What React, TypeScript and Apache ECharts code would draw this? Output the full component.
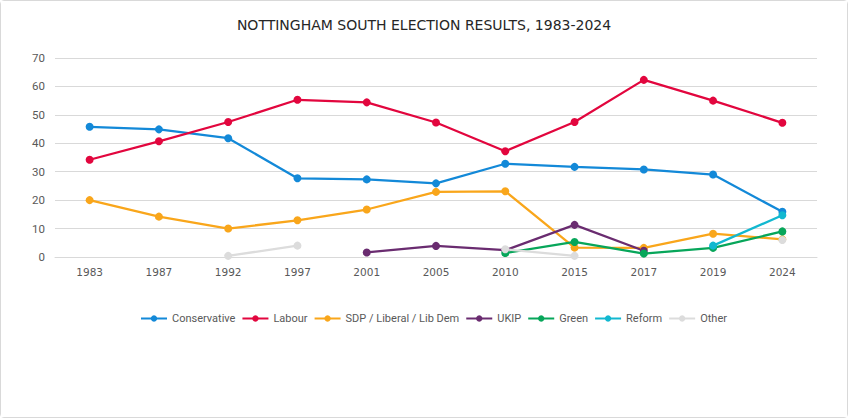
import React, { useEffect, useRef } from "react";
import * as echarts from "echarts";

const years = ["1983", "1987", "1992", "1997", "2001", "2005", "2010", "2015", "2017", "2019", "2024"];
const conservative = [45.8, 44.9, 41.8, 27.7, 27.3, 25.9, 32.8, 31.7, 30.8, 29.0, 15.9];
const labour = [34.2, 40.7, 47.5, 55.3, 54.4, 47.3, 37.2, 47.5, 62.3, 55.0, 47.2];
const libDem = [20.0, 14.2, 10.0, 12.9, 16.7, 22.9, 23.1, 3.3, 3.2, 8.2, 6.2];
const ukip = [null, null, null, null, 1.6, 3.9, 2.4, 11.3, 2.2, null, null];
const green = [null, null, null, null, null, null, 1.4, 5.3, 1.2, 3.2, 9.0];
const reform = [null, null, null, null, null, null, null, null, null, 4.0, 14.7];
const other = [null, null, 0.4, 4.0, null, null, 2.7, 0.4, null, null, 6.0];

const seriesDefs = [
  { name: "Conservative", data: conservative, color: "#1389D8" },
  { name: "Labour", data: labour, color: "#E2063E" },
  { name: "SDP / Liberal / Lib Dem", data: libDem, color: "#F9A61B" },
  { name: "UKIP", data: ukip, color: "#6A2C70" },
  { name: "Green", data: green, color: "#07A65A" },
  { name: "Reform", data: reform, color: "#12B8D0" },
  { name: "Other", data: other, color: "#DCDCDC" },
];

export default function App() {
  const ref = useRef<HTMLDivElement>(null);
  useEffect(() => {
    if (!ref.current) return;
    const chart = echarts.init(ref.current, undefined, { renderer: "svg" });
    chart.setOption({
      animation: false,
      backgroundColor: "#ffffff",
      title: {
        text: "NOTTINGHAM SOUTH ELECTION RESULTS, 1983-2024",
        left: "center",
        top: 12,
        textStyle: { fontFamily: "DejaVu Sans", fontSize: 14, fontWeight: "normal", color: "#262626" },
      },
      grid: { left: 54, right: 30, top: 57, bottom: 160 },
      legend: {
        top: 307,
        left: 134,
        itemWidth: 26,
        itemHeight: 8,
        itemGap: 6,
        textStyle: { fontFamily: "Roboto", fontSize: 11, color: "#595959" },
        data: seriesDefs.map((s) => s.name),
      },
      xAxis: {
        type: "category",
        data: years,
        boundaryGap: true,
        axisLine: { lineStyle: { color: "#D9D9D9" } },
        axisTick: { show: false },
        axisLabel: { fontFamily: "DejaVu Sans", fontSize: 10.5, color: "#595959", margin: 9 },
      },
      yAxis: {
        type: "value",
        min: 0,
        max: 70,
        interval: 10,
        axisLine: { show: false },
        axisTick: { show: false },
        splitLine: { lineStyle: { color: "#D9D9D9" } },
        axisLabel: { fontFamily: "Roboto", fontSize: 11.5, color: "#595959", margin: 10 },
      },
      series: seriesDefs.map((s) => ({
        name: s.name,
        type: "line",
        data: s.data,
        color: s.color,
        symbol: "circle",
        symbolSize: 8,
        connectNulls: false,
        lineStyle: { width: 2.25, color: s.color },
        itemStyle: { color: s.color },
      })),
    });
    return () => chart.dispose();
  }, []);
  return (
    <div
      style={{
        position: "absolute",
        left: 0,
        top: 0,
        width: 848,
        height: 418,
        boxSizing: "border-box",
        border: "1px solid #D9D9D9",
        borderRadius: 4,
        background: "#fff",
      }}
    >
      <div ref={ref} style={{ width: 846, height: 416 }} />
    </div>
  );
}
